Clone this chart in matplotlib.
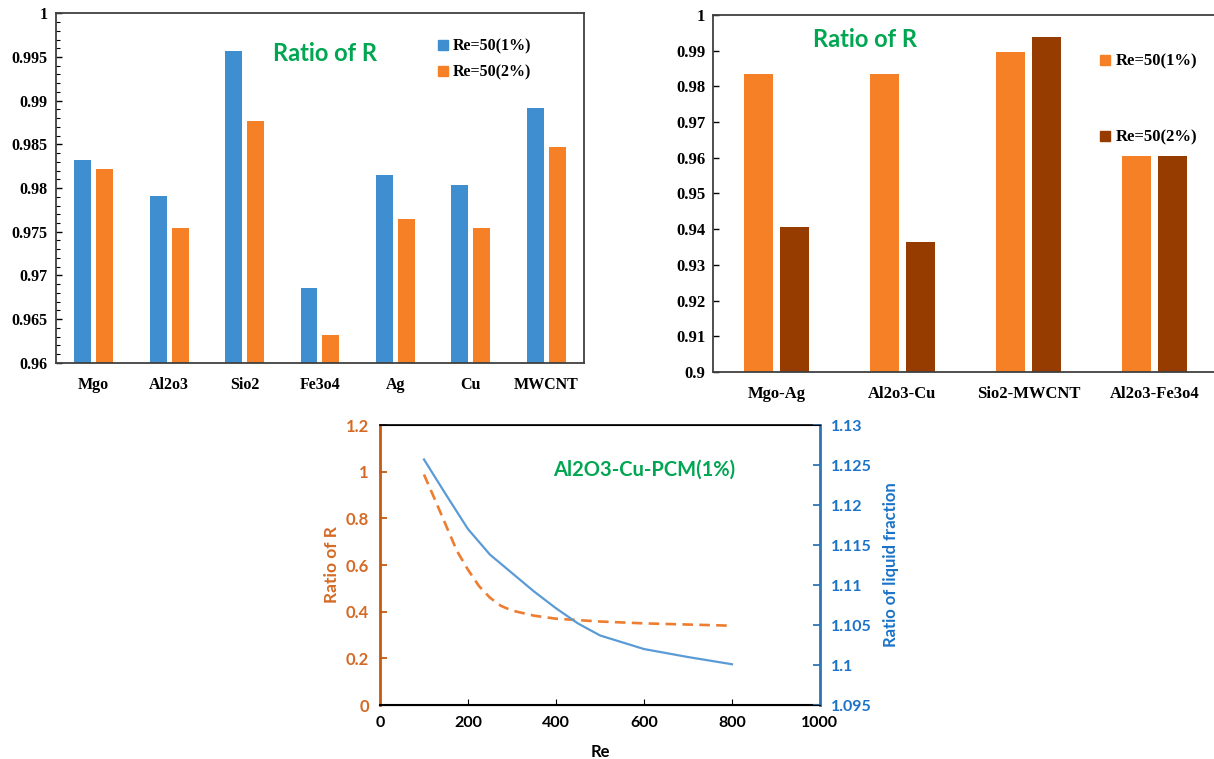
import numpy as np
import matplotlib.pyplot as plt
from matplotlib.patches import Patch
from matplotlib.ticker import MultipleLocator, FuncFormatter

# top left: single nanoparticles
np_names = ["Mgo", "Al2o3", "Sio2", "Fe3o4", "Ag", "Cu", "MWCNT"]
np_1pct = [0.9832, 0.9791, 0.9957, 0.9685, 0.9815, 0.9803, 0.9892]
np_2pct = [0.9822, 0.9754, 0.9877, 0.9632, 0.9765, 0.9754, 0.9847]

# top right: hybrid nanoparticles
hy_names = ["Mgo-Ag", "Al2o3-Cu", "Sio2-MWCNT", "Al2o3-Fe3o4"]
hy_1pct = [0.9836, 0.9836, 0.9897, 0.9605]
hy_2pct = [0.9405, 0.9365, 0.9937, 0.9605]

# bottom: Al2O3-Cu-PCM(1%) vs Re
re_r = [100, 125, 150, 175, 200, 225, 250, 275, 300, 350, 400, 500, 600, 700, 800]
ratio_r = [0.988, 0.88, 0.77, 0.66, 0.58, 0.51, 0.46, 0.425, 0.405, 0.383, 0.370, 0.358, 0.350, 0.345, 0.340]
re_lf = [100, 150, 200, 250, 300, 350, 400, 450, 500, 600, 700, 800]
ratio_lf = [1.1257, 1.1213, 1.1170, 1.1138, 1.1115, 1.1092, 1.1071, 1.1052, 1.1037, 1.1020, 1.1010, 1.1001]

BLUE = "#3E8ED0"
ORANGE = "#F58025"
BROWN = "#963C00"
GREEN = "#00A651"
SERIF = "Liberation Serif"

fmt = FuncFormatter(lambda v, p: f"{round(v, 4):g}")

fig = plt.figure(figsize=(12.14, 7.59), dpi=100)


def style_bar_axes(ax, size):
    for s in ax.spines.values():
        s.set_color("#404040")
        s.set_linewidth(1.3)
    ax.tick_params(axis="x", length=0, pad=10)
    ax.tick_params(axis="y", direction="in", length=4, width=1, pad=6)
    ax.tick_params(axis="y", which="minor", direction="in", length=3, width=0.8)
    for lab in ax.get_xticklabels() + ax.get_yticklabels():
        lab.set_fontfamily(SERIF)
        lab.set_fontweight("bold")
        lab.set_fontsize(size)
    ax.yaxis.set_major_formatter(fmt)


# ---- top left
ax1 = fig.add_axes([0.0461, 0.5221, 0.4349, 0.4603])
x = np.arange(len(np_names))
w = 0.225
ax1.bar(x - 0.145, np_1pct, w, color=BLUE)
ax1.bar(x + 0.145, np_2pct, w, color=ORANGE)
ax1.set_xlim(-0.5, len(np_names) - 0.5)
ax1.set_ylim(0.96, 1.0)
ax1.yaxis.set_major_locator(MultipleLocator(0.005))
ax1.yaxis.set_minor_locator(MultipleLocator(0.001))
ax1.set_xticks(x)
ax1.set_xticklabels(np_names)
style_bar_axes(ax1, 11.5)
ax1.text(0.51, 0.885, "Ratio of R", transform=ax1.transAxes, ha="center", va="center",
         color=GREEN, fontsize=17, fontweight="bold", family="Lato")
h1 = [Patch(color=BLUE), Patch(color=ORANGE)]
ax1.legend(h1, ["Re=50(1%)", "Re=50(2%)"], loc="upper left", bbox_to_anchor=(0.349, 0.968),
           bbox_transform=fig.transFigure, frameon=False, handlelength=0.6, handleheight=0.6,
           handletextpad=0.3, labelspacing=0.6, prop={"family": SERIF, "weight": "bold", "size": 11.5})

# ---- top right
ax2 = fig.add_axes([0.5877, 0.5099, 0.4152, 0.4704])
x2 = np.arange(len(hy_names))
w2 = 0.23
ax2.bar(x2 - 0.14, hy_1pct, w2, color=ORANGE)
ax2.bar(x2 + 0.14, hy_2pct, w2, color=BROWN)
ax2.set_xlim(-0.5, len(hy_names) - 0.5)
ax2.set_ylim(0.9, 1.0)
ax2.yaxis.set_major_locator(MultipleLocator(0.01))
ax2.set_xticks(x2)
ax2.set_xticklabels(hy_names)
style_bar_axes(ax2, 12)
ax2.text(0.3, 0.93, "Ratio of R", transform=ax2.transAxes, ha="center", va="center",
         color=GREEN, fontsize=17, fontweight="bold", family="Lato")
h2 = [Patch(color=ORANGE), Patch(color=BROWN)]
ax2.legend(h2, ["Re=50(1%)", "Re=50(2%)"], loc="upper left", bbox_to_anchor=(0.894, 0.949),
           bbox_transform=fig.transFigure, frameon=False, handlelength=0.6, handleheight=0.6,
           handletextpad=0.3, labelspacing=3.6, prop={"family": SERIF, "weight": "bold", "size": 12})

# ---- bottom
SP_OR = "#C55A11"
TX_OR = "#D46A25"
SP_BL = "#2E75B6"
TX_BL = "#1A73C8"
ax3 = fig.add_axes([0.3130, 0.0711, 0.3624, 0.3689])
ax3.plot(re_r, ratio_r, color="#ED7D31", lw=1.9, dashes=(4, 2.4))
ax3.set_xlim(0, 1000)
ax3.set_ylim(0, 1.2)
ax3.xaxis.set_major_locator(MultipleLocator(200))
ax3.yaxis.set_major_locator(MultipleLocator(0.2))
ax3.yaxis.set_major_formatter(fmt)
ax3.set_xlabel("Re", fontsize=12, family="Lato", fontweight="bold", labelpad=10)
ax3.set_ylabel("Ratio of R", fontsize=12.5, family="Lato", fontweight="bold", color=TX_OR, labelpad=4)
ax3.tick_params(axis="x", direction="in", length=4, labelsize=11.5, pad=8)
ax3.tick_params(axis="y", direction="in", length=5, width=1.3, color=SP_OR, labelcolor=TX_OR, labelsize=12, pad=8)
for lab in ax3.get_xticklabels() + ax3.get_yticklabels():
    lab.set_fontfamily("Lato")
    lab.set_fontweight("bold")
ax3.spines["left"].set_color(SP_OR)
ax3.spines["left"].set_linewidth(2)
ax3.spines["bottom"].set_linewidth(1.5)
ax3.spines["top"].set_linewidth(1.2)
ax3.text(0.6, 0.84, "Al2O3-Cu-PCM(1%)", transform=ax3.transAxes, ha="center", va="center",
         color=GREEN, fontsize=14.5, family="Lato", fontweight="bold")

ax4 = ax3.twinx()
ax4.plot(re_lf, ratio_lf, color="#5B9BD5", lw=1.6)
ax4.set_ylim(1.095, 1.13)
ax4.yaxis.set_major_locator(MultipleLocator(0.005))
ax4.yaxis.set_major_formatter(fmt)
ax4.set_ylabel("Ratio of liquid fraction", fontsize=12, family="Lato", fontweight="bold", color=TX_BL, labelpad=8)
ax4.tick_params(axis="y", direction="in", length=5, width=1.3, color=SP_BL, labelcolor=TX_BL, labelsize=11.5, pad=8)
for lab in ax4.get_yticklabels():
    lab.set_fontfamily("Lato")
    lab.set_fontweight("bold")
ax4.spines["right"].set_color(SP_BL)
ax4.spines["right"].set_linewidth(2)
ax4.spines["left"].set_visible(False)

fig.savefig("out.png", dpi=100)
